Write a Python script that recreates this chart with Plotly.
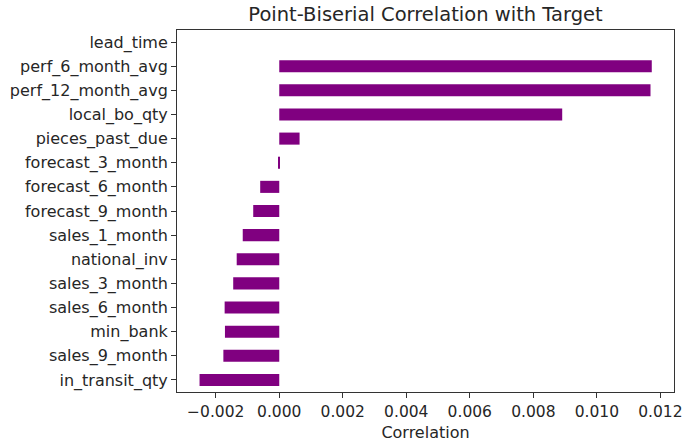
import plotly.graph_objects as go

features = ["in_transit_qty", "sales_9_month", "min_bank", "sales_6_month", "sales_3_month",
            "national_inv", "sales_1_month", "forecast_9_month", "forecast_6_month",
            "forecast_3_month", "pieces_past_due", "local_bo_qty", "perf_12_month_avg",
            "perf_6_month_avg", "lead_time"]
correlations = [-0.00251, -0.00176, -0.00171, -0.00172, -0.00145,
                -0.00134, -0.00115, -0.00082, -0.00060,
                -0.00004, 0.00064, 0.00891, 0.01169,
                0.01173, None]
x_ticks = [-0.002, 0.0, 0.002, 0.004, 0.006, 0.008, 0.010, 0.012]
x_tick_text = ["\u22120.002", "0.000", "0.002", "0.004", "0.006", "0.008", "0.010", "0.012"]

fig = go.Figure(go.Bar(
    x=correlations, y=features, orientation="h",
    marker=dict(color="#800080", line=dict(width=0)),
    width=0.5,
))

font = "DejaVu Sans, sans-serif"
fig.update_layout(
    width=685, height=442,
    margin=dict(l=177, r=11, t=30, b=50),
    plot_bgcolor="white", paper_bgcolor="white",
    font=dict(family=font, size=16, color="#262626"),
    title=dict(text="Point-Biserial Correlation with Target", x=(177 + 674) / 2 / 685,
               xanchor="center", y=1 - 14 / 442, yanchor="middle",
               font=dict(size=19.5, color="#262626", family=font)),
    showlegend=False,
    xaxis=dict(range=[-0.00322, 0.01243], tickvals=x_ticks, ticktext=x_tick_text,
               showgrid=False, zeroline=False, showline=True, linecolor="#333333",
               linewidth=1, mirror=True, ticks="outside", ticklen=5, tickcolor="#333333",
               tickfont=dict(size=15.5), automargin=False,
               title=dict(text="Correlation", font=dict(size=16), standoff=10)),
    yaxis=dict(type="category", categoryorder="array", categoryarray=features,
               range=[-0.5, 14.5], showgrid=False, zeroline=False, showline=True,
               linecolor="#333333", linewidth=1, mirror=True, ticks="outside", ticklen=5,
               tickcolor="#333333", tickfont=dict(size=16), automargin=False),
)

fig.write_html("out.html")
